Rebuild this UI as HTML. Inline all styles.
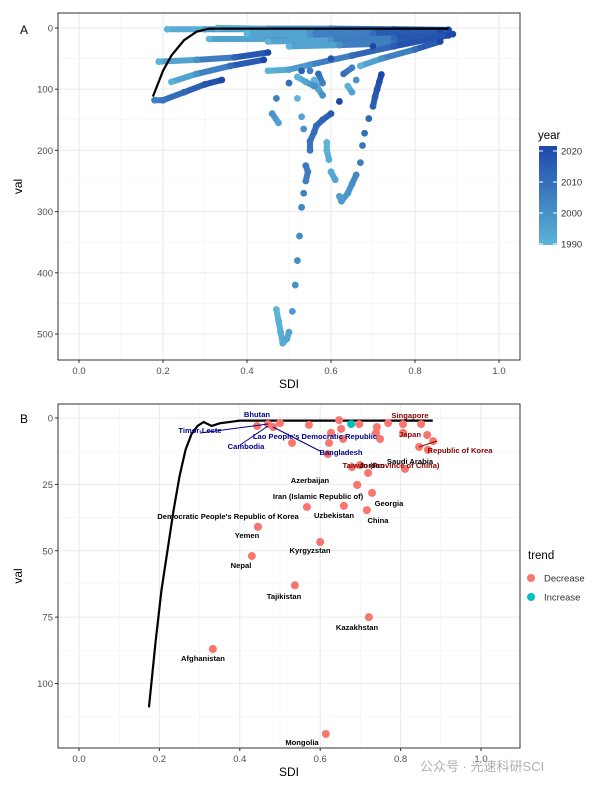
<!DOCTYPE html>
<html><head><meta charset="utf-8"><style>
body{margin:0;background:#fff;width:601px;height:789px;overflow:hidden;font-family:"Liberation Sans","Noto Sans CJK SC",sans-serif}
svg text{font-family:"Liberation Sans","Noto Sans CJK SC",sans-serif}
</style></head><body>
<svg id="s" width="601" height="789"></svg>
<script>
// ---- Panel A data: country trajectories [sdi, val, year]
const tracksA = [
 [[0.21,2,1990],[0.3,2,1995],[0.4,2,2000],[0.5,2,2005],[0.55,2,2010]],
 [[0.33,0,1990],[0.45,1,1997],[0.6,1,2005],[0.75,2,2013],[0.88,3,2021]],
 [[0.4,5,1990],[0.55,6,2000],[0.7,7,2010],[0.89,10,2021]],
 [[0.31,18,1990],[0.45,18,2000],[0.57,18,2008],[0.72,14,2015],[0.85,10,2021]],
 [[0.4,10,1990],[0.55,12,2000],[0.7,10,2010],[0.86,8,2021]],
 [[0.45,22,1990],[0.6,20,2000],[0.75,17,2012],[0.87,12,2021]],
 [[0.5,30,1990],[0.62,28,2000],[0.75,25,2010],[0.85,18,2021]],
 [[0.19,55,1990],[0.28,52,2000],[0.37,48,2012],[0.45,40,2021]],
 [[0.22,88,1990],[0.28,75,2000],[0.36,62,2010],[0.44,52,2021]],
 [[0.18,118,2005],[0.2,118,2008],[0.25,105,2012],[0.3,92,2017],[0.34,85,2021]],
 [[0.45,70,1990],[0.5,68,1995],[0.55,60,2000],[0.65,45,2010],[0.75,30,2015],[0.88,12,2021]],
 [[0.67,62,1990],[0.72,50,2000],[0.8,35,2010],[0.86,22,2021]],
 [[0.475,155,1995],[0.46,140,2000],[0.47,115,2005],[0.5,90,2010],[0.53,70,2014],[0.6,50,2018],[0.7,30,2021]],
 [[0.47,460,1990],[0.475,478,1991],[0.48,497,1992],[0.485,515,1993],[0.495,508,1994],[0.5,497,1995],[0.508,463,1998],[0.515,420,2000],[0.52,380,2001],[0.525,340,2002],[0.53,293,2003],[0.535,270,2004],[0.54,250,2005],[0.545,235,2006],[0.54,225,2007],[0.55,200,2008],[0.55,185,2009],[0.56,170,2010],[0.565,160,2011],[0.58,150,2013],[0.6,140,2016],[0.62,120,2021]],
 [[0.59,187,1990],[0.59,200,1991],[0.595,215,1992],[0.6,235,1993],[0.61,248,1994],[0.62,275,1996],[0.625,283,1997],[0.64,270,1999],[0.65,255,2001],[0.66,240,2003],[0.67,220,2006],[0.675,192,2008],[0.68,172,2010],[0.69,148,2012],[0.7,128,2014],[0.705,112,2016],[0.71,100,2018],[0.715,88,2019],[0.72,76,2021]],
 [[0.52,115,1990],[0.53,145,1995],[0.535,165,2000]],
 [[0.56,85,1990],[0.57,100,1995],[0.58,110,2000],[0.58,90,2005],[0.57,75,2010]],
 [[0.64,95,1990],[0.65,105,1995],[0.66,85,2000],[0.65,65,2005],[0.63,75,2010]],
 [[0.52,80,1990],[0.54,88,1995],[0.56,95,2000],[0.55,70,2005]]
];
const frontierA = [[0.176,112],[0.2,70],[0.22,45],[0.25,20],[0.28,6],[0.31,1],[0.35,1],[0.6,1],[0.88,1]];
const xTicks = [0,0.2,0.4,0.6,0.8,1.0];
const yTicksA = [0,100,200,300,400,500];
const yearTicks = [1990,2000,2010,2020];
// ---- Panel B data
const countries = ["Afghanistan","Mongolia","Kazakhstan","Tajikistan","Nepal","Kyrgyzstan","Yemen","Democratic People's Republic of Korea","Iran (Islamic Republic of)","Uzbekistan","China","Georgia","Azerbaijan","Jordan","Taiwan (Province of China)","Saudi Arabia","Republic of Korea","Japan","Singapore","Bangladesh","Cambodia","Lao People's Democratic Republic","Bhutan","Timor-Leste"];
const sdiB = [0.333,0.614,0.721,0.537,0.43,0.6,0.445,0.445,0.567,0.659,0.716,0.729,0.692,0.699,0.679,0.811,0.846,0.806,0.851,0.483,0.47,0.5,0.5,0.443];
const valB = [87,119,75,63,52,46.7,41,41,33.5,33.1,34.7,28.2,25.2,17.7,18.5,19.2,10.9,5.6,2.3,3.4,2.3,1.9,1.9,3];
const extraSdi = [0.572,0.53,0.627,0.647,0.652,0.657,0.622,0.619,0.697,0.741,0.739,0.749,0.769,0.806,0.866,0.881,0.868,0.719,0.692];
const extraVal = [2.6,9.4,5.6,0.8,4.1,7.9,9.4,13.6,2.3,3.4,5.6,7.9,1.9,2.3,6.4,8.7,12,20.7,25.2];
const increaseSdi = [0.677];
const increaseVal = [2.3];
const frontierB = [[0.174,109],[0.19,85],[0.205,65],[0.22,50],[0.235,35],[0.25,22],[0.265,12],[0.28,6],[0.295,3],[0.31,1.5],[0.33,3],[0.35,2],[0.4,1],[0.88,1]];
const yTicksB = [0,25,50,75,100];
const labelPos = {"Afghanistan":[203,661],"Mongolia":[302,745],"Kazakhstan":[357,630],"Tajikistan":[284,599],"Nepal":[241,568],"Kyrgyzstan":[310,553],"Yemen":[247,538],"Democratic People's Republic of Korea":[228,519],"Iran (Islamic Republic of)":[318,499],"Uzbekistan":[334,518],"China":[378,523],"Georgia":[389,506],"Azerbaijan":[310,483],"Jordan":[372,468],"Taiwan (Province of China)":[391,468],"Saudi Arabia":[410,464],"Republic of Korea":[460,453],"Japan":[410,437],"Singapore":[410,418],"Bangladesh":[341,455],"Cambodia":[246,449],"Lao People's Democratic Republic":[315,439],"Bhutan":[257,417],"Timor-Leste":[200,433]};
const blue = ["Bangladesh","Cambodia","Lao People's Democratic Republic","Bhutan","Timor-Leste"];
const red = ["Singapore","Japan","Republic of Korea","Taiwan (Province of China)"];

const NS="http://www.w3.org/2000/svg", S=document.getElementById('s');
function el(t,a,p){const e=document.createElementNS(NS,t);for(const k in a)e.setAttribute(k,a[k]);(p||S).appendChild(e);return e;}
function txt(x,y,s,a,p){const e=el('text',Object.assign({x:x,y:y},a),p);e.textContent=s;return e;}

const ax=v=>79+420*v, ay=v=>28+0.612*v;
const bx=v=>79+402*v, by=v=>418+2.655*v;
function col(yr){const t=Math.max(0,Math.min(1,(yr-1990)/31));const a=[92,180,216],b=[30,72,168];return `rgb(${a.map((c,i)=>Math.round(c+(b[i]-c)*t)).join(',')})`;}

function panel(g,x0,y0,x1,y1,xs,ys,yt,minor,label,ly){
 el('rect',{x:x0,y:y0,width:x1-x0,height:y1-y0,fill:'#fff'},g);
 minor.forEach(v=>el('line',{x1:x0,x2:x1,y1:ys(v),y2:ys(v),stroke:'#f2f2f2','stroke-width':0.6},g));
 [0.1,0.3,0.5,0.7,0.9].forEach(v=>el('line',{x1:xs(v),x2:xs(v),y1:y0,y2:y1,stroke:'#f2f2f2','stroke-width':0.6},g));
 yt.forEach(v=>el('line',{x1:x0,x2:x1,y1:ys(v),y2:ys(v),stroke:'#ebebeb','stroke-width':1.1},g));
 xTicks.forEach(v=>el('line',{x1:xs(v),x2:xs(v),y1:y0,y2:y1,stroke:'#ebebeb','stroke-width':1.1},g));
 xTicks.forEach(v=>{el('line',{x1:xs(v),x2:xs(v),y1:y1,y2:y1+3,stroke:'#333'},g);const t=txt(xs(v),y1+14,v.toFixed(1),{'font-size':9.5,fill:'#4d4d4d','text-anchor':'middle'},g);});
 yt.forEach(v=>{el('line',{x1:x0-3,x2:x0,y1:ys(v),y2:ys(v),stroke:'#333'},g);const t=txt(x0-5,ys(v)+3.5,String(v),{'font-size':9.5,fill:'#4d4d4d','text-anchor':'end'},g);});
 const xl=txt((x0+x1)/2,y1+28,'SDI',{'font-size':12,'text-anchor':'middle'},g);
 const yl=txt(0,0,'val',{'font-size':12,'text-anchor':'middle',transform:`translate(${x0-36},${(y0+y1)/2}) rotate(-90)`},g);
 const pl=txt(20,ly,label,{'font-size':12},g);
}
function line(pts,xs,ys,p){return el('polyline',{points:pts.map(q=>xs(q[0])+','+ys(q[1])).join(' '),fill:'none',stroke:'#000','stroke-width':2.2},p);}

// ---------- Panel A
const gA=el('g',{});
panel(gA,58,13,520,360,ax,ay,yTicksA,[50,150,250,350,450],'A',34);
tracksA.forEach(tr=>{
 const g=el('g',{},gA);
 for(let i=1;i<tr.length;i++){
  const dy=Math.abs(ay(tr[i][1])-ay(tr[i-1][1]));
  if(dy>12) continue;
  el('line',{x1:ax(tr[i-1][0]),y1:ay(tr[i-1][1]),x2:ax(tr[i][0]),y2:ay(tr[i][1]),stroke:col((tr[i-1][2]+tr[i][2])/2),'stroke-width':6,'stroke-linecap':'round'},g);}
 tr.forEach(q=>{const c=el('circle',{cx:ax(q[0]),cy:ay(q[1]),r:3.4,fill:col(q[2])},g);});
});
const fA=line(frontierA,ax,ay,gA);
el('rect',{x:58,y:13,width:462,height:347,fill:'none',stroke:'#333','stroke-width':1},gA);
const lg=el('g',{});
txt(538,139,'year',{'font-size':11.5},lg);
const df=el('defs',{},lg);const gr=el('linearGradient',{id:'yg',x1:0,y1:1,x2:0,y2:0},df);
el('stop',{offset:'0','stop-color':col(1990)},gr);el('stop',{offset:'1','stop-color':col(2021)},gr);
el('rect',{x:539,y:146,width:18,height:99,fill:'url(#yg)'},lg);
const cy=yr=>244-(yr-1990)*3.1;
yearTicks.forEach(y=>{el('line',{x1:539,x2:543,y1:cy(y),y2:cy(y),stroke:'#fff'},lg);el('line',{x1:553,x2:557,y1:cy(y),y2:cy(y),stroke:'#fff'},lg);txt(561,cy(y)+3.5,String(y),{'font-size':9.5,fill:'#333'},lg);});

// ---------- Panel B
const gB=el('g',{});
panel(gB,58,404,520,748,bx,by,yTicksB,[12.5,37.5,62.5,87.5,112.5],'B',423);
const fB=line(frontierB,bx,by,gB);
extraSdi.forEach((s,i)=>{const c=el('circle',{cx:bx(s),cy:by(extraVal[i]),r:4,fill:'#f8766d'},gB);});
sdiB.forEach((s,i)=>{const c=el('circle',{cx:bx(s),cy:by(valB[i]),r:4,fill:'#f8766d'},gB);});
increaseSdi.forEach((s,i)=>{const c=el('circle',{cx:bx(s),cy:by(increaseVal[i]),r:4,fill:'#00bfc4'},gB);});
[[200,433,268,424,'#00008b'],[240,445,268,426,'#00008b'],[273,427,320,451,'#00008b'],[419,447,437,441,'#8b0000']].forEach(l=>el('line',{x1:l[0],y1:l[1],x2:l[2],y2:l[3],stroke:l[4],'stroke-width':1},gB));
countries.forEach(c=>{const p=labelPos[c];const f=blue.includes(c)?'#00008b':red.includes(c)?'#8b0000':'#000';
 const t=txt(p[0],p[1],c,{'font-size':7.6,'font-weight':'bold',fill:f,'text-anchor':'middle'},gB);});
el('rect',{x:58,y:404,width:462,height:344,fill:'none',stroke:'#333','stroke-width':1},gB);
const tl=el('g',{});
txt(528,559,'trend',{'font-size':11.5},tl);
el('circle',{cx:531,cy:578,r:4,fill:'#f8766d'},tl);txt(544,581.5,'Decrease',{'font-size':9.5,fill:'#333'},tl);
el('circle',{cx:531,cy:597,r:4,fill:'#00bfc4'},tl);txt(544,600.5,'Increase',{'font-size':9.5,fill:'#333'},tl);
const wm=txt(420,771,'公众号 · 光速科研SCI',{'font-size':13,fill:'#b0b0b0'});
</script>
</body></html>
